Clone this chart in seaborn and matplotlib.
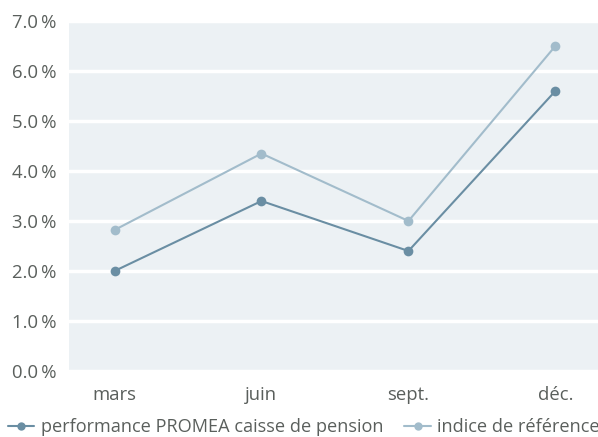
import numpy as np
import pandas as pd
import matplotlib.pyplot as plt
import seaborn as sns
from matplotlib.ticker import FuncFormatter

quarters = ["mars", "juin", "sept.", "déc."]
perf_promea = [2.0, 3.4, 2.4, 5.6]
indice_ref = [2.82, 4.35, 3.0, 6.5]
series_names = ["performance PROMEA caisse de pension", "indice de référence"]

df = pd.DataFrame({
    "quarter": quarters * 2,
    "value": perf_promea + indice_ref,
    "series": [series_names[0]] * 4 + [series_names[1]] * 4,
})

sns.set_style("white")
plt.rcParams['font.family'] = ['Open Sans', 'DejaVu Sans']
text_col = "#5a5f5c"

fig = plt.figure(figsize=(5.98, 4.37), dpi=100)
ax = fig.add_axes([69 / 598, 66 / 437, 529 / 598, 350 / 437])
ax.set_facecolor("#ecf1f4")

palette = {series_names[0]: "#6a8ea3", series_names[1]: "#a2bccb"}
sns.lineplot(data=df, x="quarter", y="value", hue="series", palette=palette,
             marker="o", markersize=7, markeredgewidth=0, linewidth=1.5,
             sort=False, ax=ax, legend=False)

ax.set_ylim(0, 7)
ax.set_xlim(-0.31, 3.29)
ax.set_yticks(np.arange(0, 7.1, 1))
ax.yaxis.set_major_formatter(FuncFormatter(lambda v, p: f"{v:.1f}\u2009%"))
ax.grid(axis="y", color="white", linewidth=2.5)
ax.set_axisbelow(True)
for s in ax.spines.values():
    s.set_visible(False)
ax.tick_params(length=0, labelsize=13.3, colors=text_col)
ax.tick_params(axis="x", pad=11)
ax.tick_params(axis="y", pad=9)
ax.set_xlabel("")
ax.set_ylabel("")

handles = [plt.Line2D([], [], color=palette[n], marker="o", markersize=6,
                      markeredgewidth=0, linewidth=1.5) for n in series_names]
fig.legend(handles, series_names, loc="lower left", bbox_to_anchor=(8 / 598, 0.002),
           borderpad=0, borderaxespad=0,
           ncol=2, frameon=False, fontsize=13.1, handlelength=1.45, handletextpad=0.34,
           columnspacing=1.17, labelcolor=text_col)

fig.savefig("out.png", dpi=100)
